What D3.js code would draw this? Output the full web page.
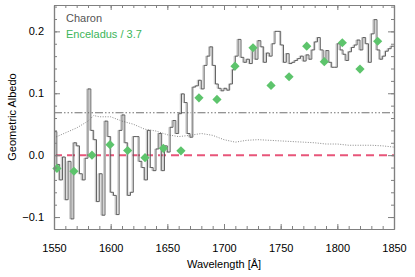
<!DOCTYPE html>
<html>
<head>
<meta charset="utf-8">
<script src="https://cdn.jsdelivr.net/npm/d3@7"></script>
<style>
  body { margin: 0; background: #fff; }
  svg text { font-family: "Liberation Sans", Arial, sans-serif; }
</style>
</head>
<body>
<script>
'use strict';

// Charon spectrum, 2.5 A bins starting at 1550 A
const binStart = 1550;
const binWidth = 2.5;
const charon = [
  0.038, -0.015, -0.04, -0.003, -0.072, -0.01, -0.103, 0.02, 0.015, -0.03,
  -0.04, -0.005, 0.107, 0.04, 0.025, -0.075, -0.03, -0.097, 0.055, 0.03,
  -0.06, -0.065, -0.096, 0.04, 0.065, 0.02, -0.065, -0.06, 0.03, 0.03,
  -0.01, -0.02, -0.04, 0.04, -0.02, -0.025, 0.01, 0.035, -0.025, 0.015,
  0.005, 0.045, 0.056, 0.035, 0.067, 0.099, 0.085, 0.035, 0.029, 0.11,
  0.112, 0.121, 0.107, 0.145, 0.16, 0.175, 0.145, 0.115, 0.108, 0.104,
  0.108, 0.105, 0.115, 0.138, 0.16, 0.187, 0.158, 0.15, 0.155, 0.148,
  0.175, 0.155, 0.185, 0.175, 0.15, 0.165, 0.16, 0.18, 0.2, 0.2,
  0.178, 0.15, 0.164, 0.148, 0.15, 0.153, 0.156, 0.16, 0.152, 0.162,
  0.155, 0.17, 0.183, 0.19, 0.17, 0.152, 0.169, 0.15, 0.142, 0.142,
  0.18, 0.17, 0.163, 0.153, 0.167, 0.174, 0.178, 0.186, 0.17, 0.19,
  0.18, 0.15, 0.196, 0.219, 0.17, 0.155, 0.16, 0.168, 0.172, 0.176
];

// Enceladus / 3.7
const encWave = [1552.6, 1567.6, 1583.5, 1599.4, 1615, 1630.3, 1646.5, 1662, 1677.9, 1693.8,
                 1709.7, 1725.6, 1741.5, 1757.4, 1773, 1788.5, 1804.4, 1820, 1835.6];
const encAlb  = [-0.0215, -0.026, 0.0, 0.017, 0.0075, -0.004, 0.011, 0.007, 0.0927, 0.090,
                 0.1438, 0.1735, 0.1126, 0.1267, 0.176, 0.151, 0.1816, 0.139, 0.184];

// dotted curve
const dotWave = [1550, 1560, 1570, 1580, 1585, 1590, 1600, 1610, 1620, 1630, 1640, 1650, 1660,
                 1670, 1680, 1690, 1700, 1710, 1720, 1730, 1740, 1750, 1760, 1770, 1780, 1790,
                 1800, 1810, 1820, 1830, 1840, 1850];
const dotAlb  = [0.028, 0.036, 0.044, 0.055, 0.064, 0.062, 0.062, 0.055, 0.05, 0.042, 0.039, 0.033, 0.03,
                 0.032, 0.035, 0.032, 0.025, 0.021, 0.024, 0.025, 0.024, 0.023, 0.022, 0.021, 0.02, 0.018,
                 0.018, 0.016, 0.016, 0.016, 0.015, 0.013];

const levelLine = 0.0685;
const zeroLine = 0.0;

const xTicks = [1550, 1600, 1650, 1700, 1750, 1800, 1850];
const yTicks = [-0.1, 0.0, 0.1, 0.2];

const W = 415, H = 277;
const M = { left: 54, right: 21, top: 5, bottom: 48 };
const iw = W - M.left - M.right, ih = H - M.top - M.bottom;

const svg = d3.select('body').append('svg').attr('width', W).attr('height', H);
const g = svg.append('g').attr('transform', `translate(${M.left},${M.top})`);

const x = d3.scaleLinear().domain([1550, 1850]).range([0, iw]);
const y = d3.scaleLinear().domain([-0.1193, 0.2426]).range([ih, 0]);

svg.append('defs').append('clipPath').attr('id', 'clip')
  .append('rect').attr('width', iw).attr('height', ih);
const plot = g.append('g').attr('clip-path', 'url(#clip)');

// reference lines
plot.append('line')
  .attr('x1', 0).attr('x2', iw).attr('y1', y(levelLine)).attr('y2', y(levelLine))
  .attr('stroke', '#707070').attr('stroke-width', 1)
  .attr('stroke-dasharray', '8,2,1.5,2,1.5,2,1.5,2');

plot.append('path')
  .datum(dotWave.map((w, i) => [w, dotAlb[i]]))
  .attr('fill', 'none').attr('stroke', '#8a8a8a').attr('stroke-width', 1)
  .attr('stroke-dasharray', '1,1.5')
  .attr('d', d3.line().x(d => x(d[0])).y(d => y(d[1])));

plot.append('line')
  .attr('x1', 0).attr('x2', iw).attr('y1', y(zeroLine)).attr('y2', y(zeroLine))
  .attr('stroke', '#e8557a').attr('stroke-width', 2)
  .attr('stroke-dasharray', '8,5');

// Charon step spectrum
const steps = charon.map((v, i) => [binStart + i * binWidth, v]);
steps.push([binStart + charon.length * binWidth, charon[charon.length - 1]]);
const stepLine = d3.line().curve(d3.curveStepAfter).x(d => x(d[0])).y(d => y(d[1]));

plot.append('path').datum(steps)
  .attr('fill', 'none').attr('stroke', '#c2c2c2').attr('stroke-width', 1)
  .attr('transform', 'translate(-1.2,0)')
  .attr('d', stepLine);
plot.append('path').datum(steps)
  .attr('fill', 'none').attr('stroke', '#555').attr('stroke-width', 0.9)
  .attr('d', stepLine);

// Enceladus diamonds
const dh = 4.6;
g.selectAll('path.enc')
  .data(encWave.map((w, i) => [w, encAlb[i]]))
  .enter().append('path')
  .attr('class', 'enc')
  .attr('d', d => `M${x(d[0])},${y(d[1]) - dh}L${x(d[0]) + dh},${y(d[1])}L${x(d[0])},${y(d[1]) + dh}L${x(d[0]) - dh},${y(d[1])}Z`)
  .attr('fill', '#5dc46c');

// axes: inward ticks on all four sides
const frame = '#808080';
const xMinor = d3.range(1550, 1851, 10);
const yMinor = d3.range(-0.1, 0.2401, 0.02).map(v => +v.toFixed(2));

function styleAxis(sel) {
  sel.selectAll('path.domain').attr('stroke', frame).attr('stroke-width', 1.2);
  sel.selectAll('.tick line').attr('stroke', frame);
  sel.selectAll('.tick text').attr('fill', '#000').attr('font-size', '11px');
}

g.append('g').attr('transform', `translate(0,${ih})`)
  .call(d3.axisBottom(x).tickValues(xMinor).tickSize(-3).tickSizeOuter(0).tickFormat(''))
  .call(styleAxis);
g.append('g').attr('transform', `translate(0,${ih})`)
  .call(d3.axisBottom(x).tickValues(xTicks).tickSize(-5).tickSizeOuter(0).tickPadding(15).tickFormat(d3.format('d')))
  .call(styleAxis);
g.append('g')
  .call(d3.axisTop(x).tickValues(xMinor).tickSize(-3).tickSizeOuter(0).tickFormat(''))
  .call(styleAxis);
g.append('g')
  .call(d3.axisTop(x).tickValues(xTicks).tickSize(-5).tickSizeOuter(0).tickFormat(''))
  .call(styleAxis);

g.append('g')
  .call(d3.axisLeft(y).tickValues(yMinor).tickSize(-3).tickSizeOuter(0).tickFormat(''))
  .call(styleAxis);
g.append('g')
  .call(d3.axisLeft(y).tickValues(yTicks).tickSize(-6).tickSizeOuter(0).tickPadding(10).tickFormat(d3.format('.1f')))
  .call(styleAxis);
g.append('g').attr('transform', `translate(${iw},0)`)
  .call(d3.axisRight(y).tickValues(yMinor).tickSize(-3).tickSizeOuter(0).tickFormat(''))
  .call(styleAxis);
g.append('g').attr('transform', `translate(${iw},0)`)
  .call(d3.axisRight(y).tickValues(yTicks).tickSize(-6).tickSizeOuter(0).tickFormat(''))
  .call(styleAxis);

// axis titles
svg.append('text')
  .attr('x', M.left + iw / 2).attr('y', 268)
  .attr('text-anchor', 'middle').attr('font-size', '11px').attr('fill', '#000')
  .text('Wavelength [Å]');
svg.append('text')
  .attr('transform', `translate(16,${M.top + ih / 2}) rotate(-90)`)
  .attr('text-anchor', 'middle').attr('font-size', '11px').attr('fill', '#000')
  .text('Geometric Albedo');

// legend
svg.append('text').attr('x', 66).attr('y', 22)
  .attr('font-size', '11px').attr('fill', '#555').text('Charon');
svg.append('text').attr('x', 66).attr('y', 38)
  .attr('font-size', '11px').attr('fill', '#3cb55a').text('Enceladus / 3.7');
</script>
</body>
</html>
